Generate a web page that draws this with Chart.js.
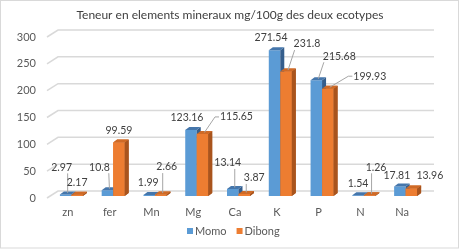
<!DOCTYPE html>
<html><head><meta charset="utf-8">
<script src="https://cdn.jsdelivr.net/npm/chart.js@4.4.0/dist/chart.umd.min.js"></script>
<style>html,body{margin:0;padding:0;background:#fff;}#wrap{width:460px;height:250px;}</style>
</head><body><div id="wrap"><canvas id="c" width="460" height="250"></canvas></div>
<script>
const categories = ['zn','fer','Mn','Mg','Ca','K','P','N','Na'];
const momo = [2.97,10.8,1.99,123.16,13.14,271.54,215.68,1.54,17.81];
const dibong = [2.17,99.59,2.66,115.65,3.87,231.8,199.93,1.26,13.96];
const seriesNames = ['Momo','Dibong'];
const yMin = 0, yMax = 300, yStep = 50;
const titleText = 'Teneur en elements mineraux mg/100g des deux ecotypes';

// label placement relative to bar top (px) and leader-line flags
const momoLabelOffsets = [[-4,-27],[-8,-23],[-1,-12],[-4,-12],[-5,-26],[-3.5,-13],[23,-24],[0,-12],[-3,-10.5]];
const dibongLabelOffsets = [[0,-12],[0,-11.5],[6,-27.5],[34,-17],[10,-16],[21,-27.5],[42,-12.5],[6.5,-28],[18.5,-12.5]];
const momoLeader = [1,1,0,0,1,0,1,0,0];
const dibongLeader = [0,0,1,1,1,1,1,1,0];

const FONT = 'Lato';
const SHIFT = {x:3.5, y:-2};
const DEPTH = {x:4, y:-3};
const WALL = {x:11, y:-7};
const faceColors = [{top:'#4576AB', side:'#355E8C'}, {top:'#CF6A26', side:'#A9541D'}];
const labelOffsets = [momoLabelOffsets, dibongLabelOffsets];
const leaders = [momoLeader, dibongLeader];

function drawFaces(c, meta, col){
  meta.data.forEach(el=>{
    const l = el.x - el.width/2, r = el.x + el.width/2, t = el.y, b = el.base;
    c.fillStyle = col.side;
    c.beginPath(); c.moveTo(r,t); c.lineTo(r+DEPTH.x,t+DEPTH.y); c.lineTo(r+DEPTH.x,b+DEPTH.y); c.lineTo(r,b); c.closePath(); c.fill();
    c.fillStyle = col.top;
    c.beginPath(); c.moveTo(l,t); c.lineTo(l+DEPTH.x,t+DEPTH.y); c.lineTo(r+DEPTH.x,t+DEPTH.y); c.lineTo(r,t); c.closePath(); c.fill();
  });
}

const framePlugin = {
  id:'frame',
  beforeDraw(chart){
    const c = chart.ctx;
    c.save(); c.fillStyle='#fff'; c.fillRect(0,0,chart.width,chart.height);
    c.strokeStyle='#D9D9D9'; c.lineWidth=1; c.strokeRect(0.5,0.5,458,247.5); c.restore();
  },
  beforeDatasetsDraw(chart){
    const c = chart.ctx, y = chart.scales.y, a = chart.chartArea;
    c.save(); c.strokeStyle='#D9D9D9'; c.lineWidth=1.5;
    y.ticks.forEach(t=>{
      const py = y.getPixelForValue(t.value);
      c.beginPath(); c.moveTo(a.left, py); c.lineTo(a.left+WALL.x, py+WALL.y); c.lineTo(a.right+WALL.x, py+WALL.y); c.stroke();
    });
    c.restore();
  },
  beforeDatasetDraw(chart, args){
    chart.ctx.save(); chart.ctx.translate(SHIFT.x, SHIFT.y);
  },
  afterDatasetDraw(chart, args){
    const c = chart.ctx, meta = args.meta;
    drawFaces(c, meta, faceColors[meta.index]);
    if (meta.index === 0) {
      const m1 = chart.getDatasetMeta(1);
      m1.data.forEach(el=>el.draw(c));
      drawFaces(c, m1, faceColors[1]);
    }
    c.restore();
  },
  afterDatasetsDraw(chart){
    const c = chart.ctx;
    c.save();
    c.font = '10.5px ' + FONT; c.textAlign='center'; c.textBaseline='middle';
    [0,1].forEach(di=>{
      const meta = chart.getDatasetMeta(di);
      const vals = chart.data.datasets[di].data;
      meta.data.forEach((el,i)=>{
        const bx = el.x + SHIFT.x + DEPTH.x/2, by = el.y + SHIFT.y + DEPTH.y/2;
        const lx = el.x + SHIFT.x + labelOffsets[di][i][0], ly = el.y + SHIFT.y + labelOffsets[di][i][1];
        const txt = String(vals[i]);
        const w = c.measureText(txt).width;
        if (leaders[di][i]) {
          const L = lx - w/2 - 1, R = lx + w/2 + 1, B = ly + 6;
          c.strokeStyle='#A6A6A6'; c.lineWidth=1; c.beginPath();
          const dx = bx - lx, dy = by - ly;
          if (Math.abs(dy) > Math.abs(dx)) {
            const sx = Math.min(Math.max(bx, L+2), R-2);
            c.moveTo(sx, B); c.lineTo(bx, by);
          } else if (dx < 0) {
            c.moveTo(L, ly); c.lineTo(L-4, ly); c.lineTo(bx, by);
          } else {
            c.moveTo(R, ly); c.lineTo(R+4, ly); c.lineTo(bx, by);
          }
          c.stroke();
        }
        c.fillStyle='#404040';
        c.fillText(txt, lx, ly);
      });
    });
    // legend
    c.font = '11px ' + FONT; c.textAlign='left'; c.textBaseline='middle';
    const ds = chart.data.datasets;
    const legY = 231;
    let x = 187;
    ds.forEach((d,i)=>{
      c.fillStyle = d.backgroundColor; c.fillRect(x, legY-3, 6, 6);
      c.fillStyle = '#595959'; c.fillText(d.label, x+8, legY);
      x += 8 + c.measureText(d.label).width + 10;
    });
    c.restore();
  }
};

new Chart(document.getElementById('c'), {
  type:'bar',
  data:{labels:categories, datasets:[
    {label:seriesNames[0], data:momo, backgroundColor:'#5B9BD5', borderWidth:0, clip:false, categoryPercentage:0.55, barPercentage:1},
    {label:seriesNames[1], data:dibong, backgroundColor:'#ED7D31', borderWidth:0, clip:false, categoryPercentage:0.55, barPercentage:1}
  ]},
  options:{
    responsive:false, animation:false, devicePixelRatio:1,
    layout:{padding:{top:0,left:0,right:0,bottom:30.5}},
    plugins:{
      title:{display:true, text:titleText, color:'#404040', font:{size:12, family:FONT, weight:'normal'}, padding:{top:8, bottom:14.6}},
      legend:{display:false},
      tooltip:{enabled:false}
    },
    scales:{
      x:{grid:{display:false, drawTicks:false}, border:{display:false}, ticks:{color:'#595959', font:{size:11, family:FONT}, padding:8}, afterFit:s=>{s.height=21.5;}},
      y:{min:yMin, max:yMax, ticks:{stepSize:yStep, color:'#595959', font:{size:11, family:FONT}, padding:11}, grid:{display:false, drawTicks:false}, border:{display:false}, afterFit:s=>{s.width=47;}},
      y2:{position:'right', display:true, grid:{display:false, drawTicks:false}, border:{display:false}, ticks:{display:false}, afterFit:s=>{s.width=37;}}
    }
  },
  plugins:[framePlugin]
});
</script></body></html>
